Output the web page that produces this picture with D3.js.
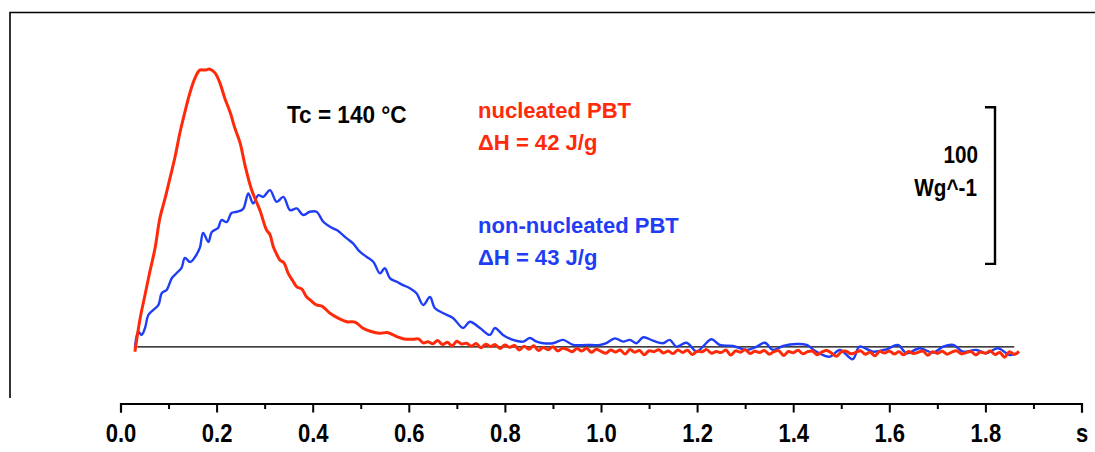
<!DOCTYPE html>
<html>
<head>
<meta charset="utf-8">
<script src="https://cdn.jsdelivr.net/npm/d3@7"></script>
<style>
    body { margin: 0; background: #fff; }
    svg { display: block; font-family: "Liberation Sans", Arial, sans-serif; }
</style>
</head>
<body>
<div id="dsc-chart"></div>
<script>
// Isothermal crystallisation at Tc = 140 °C: heat flow (W/g) vs time (s)

// nucleated PBT, main peak
const redTime = [0.030, 0.041, 0.051, 0.061, 0.072, 0.082, 0.093, 0.103, 0.113, 0.124, 0.134, 0.145, 0.155,
    0.165, 0.176, 0.186, 0.197, 0.207, 0.217, 0.228, 0.238, 0.249, 0.259, 0.273, 0.290, 0.304, 0.311,
    0.318, 0.325, 0.332, 0.340, 0.349, 0.358, 0.367, 0.377, 0.387, 0.397, 0.408, 0.420, 0.436, 0.452,
    0.471, 0.488, 0.505, 0.520, 0.540, 0.555, 0.575, 0.590, 0.609, 0.620, 0.630];
const redValue = [-3.0, 18.5, 33.2, 47.9, 63.2, 82.3, 95.1, 107.8, 120.6, 137.2, 149.9, 162.7, 171.6,
    176.7, 176.7, 177.3, 174.8, 168.4, 158.8, 149.9, 139.7, 130.1, 116.1, 100.2, 87.4, 74.6, 71.8,
    63.9, 59.2, 55.3, 53.8, 47.0, 42.5, 38.4, 37.0, 32.1, 29.4, 26.8, 25.9, 21.5, 18.6,
    16.1, 15.9, 11.9, 10.0, 8.7, 9.2, 6.6, 5.1, 4.9, 5.2, 2.6];

// nucleated PBT, noisy tail sampled every 0.01 s from 0.64 s
const redTailStart = 0.64;
const redTailStep = 0.01;
const redTailValue = [
    3.4, 2.0, 4.1, 1.5, 3.0, 0.8, 3.6, 1.9, 2.4, 0.5,
    2.2, -0.5, 1.8, 0.3, 1.5, -1.0, 1.2, -0.2, 0.9, -2.0,
    0.5, -1.5, 0.8, -2.2, -0.3, -1.8, 0.2, -2.5, -0.8, -1.6,
    -3.0, -1.0, -2.6, -0.8, -3.4, -1.5, -2.8, -4.0, -1.9, -3.2,
    -2.0, -4.5, -1.6, -3.3, -2.2, -5.0, -2.4, -3.0, -1.8, -3.8,
    -2.6, -4.2, -1.9, -3.5, -2.1, -4.8, -2.7, -3.1, -1.7, -4.0,
    -2.9, -3.6, -2.0, -5.2, -2.5, -3.3, -1.8, -4.1, -2.8, -3.5,
    -2.2, -4.6, -3.0, -2.4, -5.5, -2.9, -3.7, -2.1, -4.3, -3.0,
    -2.6, -4.9, -3.2, -2.3, -4.0, -6.0, -3.1, -2.7, -4.4, -3.5,
    -2.4, -4.7, -3.3, -5.6, -2.8, -3.9, -2.5, -4.5, -3.1, -5.0,
    -2.9, -4.2, -3.4, -2.6, -5.3, -3.0, -4.1, -2.7, -4.6, -3.3,
    -2.5, -4.4, -3.6, -2.9, -5.1, -3.2, -4.0, -2.6, -4.8, -3.5,
    -6.5, -3.0, -4.7, -2.8];

// non-nucleated PBT
const blueTime = [0.030, 0.037, 0.044, 0.051, 0.058, 0.068, 0.079, 0.086, 0.096, 0.107, 0.117, 0.127,
    0.134, 0.145, 0.155, 0.165, 0.172, 0.183, 0.190, 0.203, 0.210, 0.221, 0.231, 0.242, 0.255, 0.266,
    0.276, 0.287, 0.297, 0.311, 0.325, 0.339, 0.353, 0.367, 0.380, 0.394, 0.408, 0.422, 0.436, 0.450,
    0.471, 0.484, 0.498, 0.512, 0.526, 0.540, 0.550, 0.561, 0.575, 0.588, 0.602, 0.616, 0.630, 0.644,
    0.654, 0.672, 0.692, 0.713, 0.727, 0.748, 0.769, 0.779, 0.796, 0.817, 0.838, 0.852, 0.866, 0.880,
    0.900, 0.921, 0.942, 0.970, 0.998, 1.011, 1.029, 1.046, 1.060, 1.074, 1.088, 1.108, 1.129, 1.143,
    1.157, 1.178, 1.199, 1.212, 1.230, 1.247, 1.275, 1.303, 1.324, 1.341, 1.358, 1.379, 1.407, 1.428,
    1.448, 1.476, 1.497, 1.524, 1.538, 1.566, 1.594, 1.618, 1.636, 1.663, 1.691, 1.712, 1.733, 1.753,
    1.781, 1.802, 1.826, 1.850, 1.868];
const blueValue = [-0.8, 9.8, 7.7, 12.1, 20.4, 23.6, 26.8, 34.4, 36.4, 44.0, 47.2, 50.4,
    56.8, 54.2, 57.4, 63.2, 72.8, 67.0, 73.4, 75.9, 81.0, 79.7, 85.5, 86.3, 88.0, 98.0,
    91.6, 96.9, 95.8, 100.1, 92.6, 95.8, 87.3, 88.4, 84.2, 86.3, 86.3, 79.9, 76.7, 74.6,
    69.3, 66.1, 60.8, 57.6, 54.4, 47.0, 50.2, 43.8, 41.6, 39.5, 37.5, 34.3, 26.8, 31.9,
    24.9, 21.5, 18.5, 12.1, 16.1, 12.1, 7.7, 12.1, 7.7, 4.5, 3.4, 5.7, 3.4, 2.4,
    2.4, 4.5, 1.3, 1.3, 1.3, 2.4, 5.5, 3.4, 4.5, 2.4, 6.2, 4.0, 2.4, 4.5,
    0.2, 2.7, -3.0, 0.2, 4.9, 1.3, 0.6, -1.9, 0.2, 2.7, -1.9, 0.6, 1.9, 1.3,
    -3.0, -6.2, -1.9, -7.8, 0.2, -3.0, -1.5, 1.3, -4.0, -0.8, -3.6, 0.2, 1.3, -3.0,
    -1.9, -4.0, -0.8, -5.1, -4.0];

// x axis ticks (s)
const xTicks = [0.0, 0.1, 0.2, 0.3, 0.4, 0.5, 0.6, 0.7, 0.8, 0.9, 1.0,
    1.1, 1.2, 1.3, 1.4, 1.5, 1.6, 1.7, 1.8, 1.9, 2.0];
const xTickLabels = ["0.0", "", "0.2", "", "0.4", "", "0.6", "", "0.8", "", "1.0",
    "", "1.2", "", "1.4", "", "1.6", "", "1.8", "", "s"];

// baseline and scale bar (W/g)
const baselineSpan = [0.035, 1.86];
const scaleBarFrom = 53;
const scaleBarSize = 100;

(function () {
    const width = 1095;
    const height = 452;

    const svg = d3.select("#dsc-chart")
        .append("svg")
        .attr("width", width)
        .attr("height", height);

    // Scales
    const xScale = d3.scaleLinear().domain([0, 2.0]).range([120.5, 1081.5]);
    const yScale = d3.scaleLinear().domain([-20, 200]).range([378.3, 33.6]);

    // Frame (top and left only)
    svg.append("path")
        .attr("d", "M10,398V12.5H1095")
        .attr("fill", "none")
        .attr("stroke", "#000")
        .attr("stroke-width", 1.6);

    // Baseline
    svg.append("line")
        .attr("x1", xScale(baselineSpan[0]))
        .attr("x2", xScale(baselineSpan[1]))
        .attr("y1", yScale(0))
        .attr("y2", yScale(0))
        .attr("stroke", "#000")
        .attr("stroke-width", 1.2);

    // Build series
    const redData = redTime.map((t, i) => [t, redValue[i]])
        .concat(redTailValue.map((v, i) => [redTailStart + i * redTailStep, v]));
    const blueData = blueTime.map((t, i) => [t, blueValue[i]]);

    const line = d3.line()
        .curve(d3.curveCatmullRom.alpha(0.5))
        .x((d) => xScale(d[0]))
        .y((d) => yScale(d[1]));

    svg.append("path")
        .datum(blueData)
        .attr("d", line)
        .attr("fill", "none")
        .attr("stroke", "#1f3df5")
        .attr("stroke-width", 2.4)
        .attr("stroke-linejoin", "round");

    svg.append("path")
        .datum(redData)
        .attr("d", line)
        .attr("fill", "none")
        .attr("stroke", "#ff2a0a")
        .attr("stroke-width", 3)
        .attr("stroke-linejoin", "round");

    // X axis
    const xAxis = d3.axisBottom(xScale)
        .tickValues(xTicks)
        .tickSizeOuter(0)
        .tickSize(9)
        .tickPadding(12)
        .tickFormat((d, i) => xTickLabels[i]);

    const axisGroup = svg.append("g")
        .attr("transform", "translate(0,403.5)")
        .call(xAxis);

    axisGroup.select(".domain").attr("stroke-width", 2.2);
    axisGroup.selectAll(".tick line")
        .attr("stroke-width", 2)
        .attr("y2", (d, i) => (i % 2 === 0 ? 9 : 5.5));
    axisGroup.selectAll(".tick text")
        .attr("font-family", "Liberation Sans, Arial, sans-serif")
        .attr("font-size", 25)
        .attr("font-weight", "bold")
        .attr("fill", "#000")
        .attr("transform", "scale(0.88,1)");

    // Annotations
    function addText(x, y, str, color, size, sx, anchor) {
        svg.append("text")
            .attr("transform", `translate(${x},${y}) scale(${sx},1)`)
            .attr("text-anchor", anchor || "start")
            .attr("font-size", size)
            .attr("font-weight", "bold")
            .attr("fill", color)
            .text(str);
    }

    addText(287, 123, "Tc = 140 °C", "#000", 24, 0.94);
    addText(478, 117.5, "nucleated PBT", "#ff2a0a", 22.5, 0.98);
    addText(478, 150, "ΔH = 42 J/g", "#ff2a0a", 22.5, 0.98);
    addText(478, 233, "non-nucleated PBT", "#1f3df5", 22.5, 0.98);
    addText(478, 265, "ΔH = 43 J/g", "#1f3df5", 22.5, 0.98);
    addText(978, 163, "100", "#000", 23, 0.9, "end");
    addText(977, 196, "Wg^-1", "#000", 23, 0.9, "end");

    // Scale bar bracket
    const barTop = yScale(scaleBarFrom + scaleBarSize);
    const barBottom = yScale(scaleBarFrom);
    svg.append("path")
        .attr("d", `M985,${barTop}H995V${barBottom}H985`)
        .attr("fill", "none")
        .attr("stroke", "#000")
        .attr("stroke-width", 2.4);
})();
</script>
</body>
</html>
